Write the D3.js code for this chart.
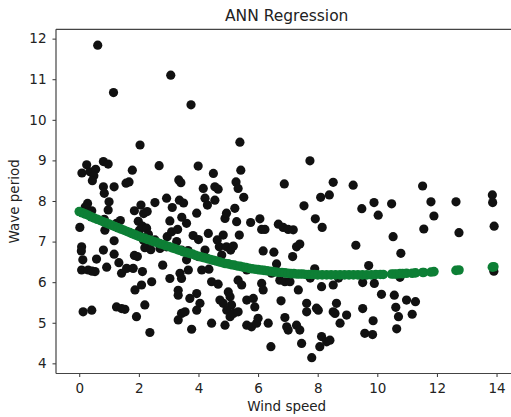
<!DOCTYPE html>
<html>
<head>
<meta charset="utf-8">
<script src="https://cdn.jsdelivr.net/npm/d3@7"></script>
<style>
  html, body { margin: 0; padding: 0; background: #fff; }
  svg { display: block; font-family: "DejaVu Sans", sans-serif; }
</style>
</head>
<body>
<svg id="chart" width="511" height="417"></svg>
<script>
// Observed wind speed / wave period pairs
const windSpeed = [
  0.62,0.09,0.25,0.36,0.55,0.49,0.44,0.28,0.20,0.42,0.02,0.08,0.07,0.12,0.08,0.30,0.53,0.58,0.13,0.42,0.43,
  0.81,0.97,0.81,0.84,1.00,1.17,0.97,0.84,0.86,0.81,0.92,1.15,1.17,1.17,1.25,1.38,1.33,1.42,1.25,1.42,1.53,
  1.57,1.67,1.78,1.59,1.81,1.85,2.04,2.07,2.16,2.28,2.54,1.98,2.02,2.12,2.26,2.32,2.15,2.30,2.20,2.40,1.85,1.95,
  2.12,1.87,2.09,2.20,1.92,2.37,2.43,2.80,
  2.68,2.93,3.12,3.04,2.54,2.71,2.93,2.95,3.10,3.27,3.30,3.07,3.04,3.34,3.41,3.36,3.50,3.44,3.60,3.43,3.60,3.65,
  3.38,3.43,3.66,3.32,3.32,3.43,3.32,3.55,3.71,3.77,
  3.75,3.99,4.16,4.22,4.30,3.94,3.82,4.00,4.22,4.33,3.99,4.11,3.94,4.05,3.94,4.44,4.44,4.50,4.55,4.66,4.55,4.63,
  4.70,4.35,4.66,4.78,
  4.72,4.83,5.00,5.06,5.11,4.95,5.06,5.17,5.33,4.89,4.83,4.89,4.94,4.94,5.08,5.17,5.22,5.26,5.33,5.42,5.39,5.28,
  5.37,5.52,5.33,5.45,5.62,5.62,5.84,5.89,5.62,5.78,5.95,6.00,
  5.75,6.06,6.12,6.23,6.17,6.53,6.12,6.17,6.45,6.62,6.73,6.90,7.07,6.77,6.34,6.43,6.68,6.84,7.01,7.18,6.88,
  6.90,6.96,7.01,7.29,7.40,7.35,7.46,7.80,7.63,7.63,7.96,8.02,7.74,7.54,7.16,7.29,7.40,7.92,8.15,7.90,7.75,8.13,
  8.10,8.39,8.52,9.19,8.13,8.07,8.30,8.41,8.52,8.58,8.63,8.75,8.97,8.52,8.70,9.28,9.48,
  9.51,9.90,9.71,10.14,9.51,9.86,9.58,9.84,9.89,10.03,10.48,10.53,10.79,10.76,10.57,10.62,10.71,10.65,10.98,11.28,
  11.17,11.52,11.56,11.80,11.90,12.64,12.74,13.86,13.87,13.92,13.91
];
const wavePeriod = [
  11.84,8.69,8.89,8.72,8.78,8.62,8.50,7.94,7.85,7.76,7.35,6.87,6.77,6.55,6.30,6.30,6.26,6.57,5.27,5.31,6.27,
  8.97,8.91,8.35,8.19,7.98,8.35,7.78,7.55,7.28,6.79,6.37,10.67,7.02,6.69,7.45,7.52,6.48,6.22,5.39,5.35,5.33,
  8.44,8.47,8.76,6.34,6.34,7.76,9.38,7.90,7.69,7.74,7.96,7.50,7.28,7.38,7.33,7.18,7.04,7.00,6.85,6.80,6.66,6.63,
  6.26,5.81,5.93,5.44,5.15,4.76,6.01,6.42,
  8.87,8.07,7.84,7.51,7.04,6.83,6.87,7.12,7.24,7.00,7.30,11.10,6.09,8.52,8.45,8.02,7.95,7.60,7.45,6.79,6.55,6.78,
  6.22,6.09,6.30,5.80,5.68,5.23,5.07,5.27,5.60,4.84,
  10.37,8.86,8.31,8.07,7.90,7.70,7.15,7.05,6.79,7.20,6.63,6.30,5.72,5.48,5.31,6.01,4.99,8.68,8.35,8.29,8.02,7.04,
  6.87,6.32,5.95,6.67,
  5.56,5.48,5.76,5.64,5.44,5.31,5.15,5.23,5.27,4.94,7.16,7.57,7.70,6.87,6.79,6.89,7.82,8.47,8.31,8.76,9.45,7.49,
  7.16,8.09,6.05,5.93,6.30,5.56,5.60,5.39,4.94,4.90,4.99,5.11,
  7.47,7.56,7.30,7.30,6.77,6.74,5.97,5.81,6.22,6.45,6.05,6.01,6.01,5.54,4.99,4.41,7.43,7.35,7.30,7.29,8.42,
  5.13,4.90,4.82,4.94,4.82,5.81,4.49,4.14,5.48,5.27,5.36,5.31,8.99,7.88,6.63,6.87,6.94,7.56,7.35,6.33,6.10,5.89,
  8.09,8.15,8.46,8.39,4.66,4.41,4.53,4.57,5.27,5.23,5.48,4.99,5.19,5.93,6.10,6.91,7.81,
  5.99,5.97,6.41,5.70,5.35,5.05,4.74,4.71,7.96,7.65,7.93,7.12,6.71,6.12,5.68,5.38,5.15,4.85,5.56,5.52,
  5.21,8.37,7.31,7.98,7.63,7.98,7.22,8.15,7.96,7.38,6.27
];

// ANN regression output along the wind speed range
const predSpeed = [
  0.0,0.1,0.2,0.3,0.4,0.5,0.6,0.7,0.8,0.9,1.0,1.1,1.2,1.3,1.4,1.5,1.6,1.7,1.8,1.9,
  2.0,2.1,2.2,2.3,2.4,2.5,2.6,2.7,2.8,2.9,3.0,3.1,3.2,3.3,3.4,3.5,3.6,3.7,3.8,3.9,
  4.0,4.1,4.2,4.3,4.4,4.5,4.6,4.7,4.8,4.9,5.0,5.1,5.2,5.3,5.4,5.5,5.6,5.7,5.8,5.9,
  6.0,6.1,6.2,6.3,6.4,6.5,6.6,6.7,6.8,6.9,7.0,7.1,7.2,7.3,7.4,7.5,7.6,7.7,7.8,7.9,
  8.0,8.15,8.3,8.45,8.6,8.75,8.9,9.05,9.2,9.35,9.5,9.65,9.8,9.95,10.1,10.2,
  10.48,10.57,10.65,10.76,10.85,10.98,11.17,11.28,11.52,11.56,11.80,11.90,12.64,12.74,13.86,13.91
];
const predPeriod = [
  7.74,7.71,7.68,7.65,7.61,7.58,7.55,7.52,7.49,7.46,7.43,7.40,7.37,7.34,7.31,7.28,7.25,7.22,7.19,7.16,
  7.13,7.10,7.08,7.05,7.03,7.00,6.98,6.95,6.93,6.90,6.88,6.85,6.83,6.80,6.78,6.75,6.73,6.71,6.69,6.66,
  6.64,6.62,6.60,6.58,6.56,6.54,6.52,6.50,6.48,6.46,6.45,6.43,6.42,6.40,6.39,6.37,6.36,6.34,6.33,6.32,
  6.31,6.30,6.29,6.28,6.27,6.26,6.25,6.24,6.24,6.23,6.22,6.21,6.21,6.20,6.20,6.20,6.19,6.19,6.19,6.19,
  6.18,6.18,6.18,6.18,6.18,6.18,6.18,6.18,6.18,6.18,6.18,6.18,6.18,6.19,6.19,6.19,
  6.20,6.20,6.20,6.21,6.21,6.22,6.22,6.23,6.24,6.24,6.25,6.26,6.29,6.30,6.37,6.38
];

const xTicks = [0, 2, 4, 6, 8, 10, 12, 14];
const yTicks = [4, 5, 6, 7, 8, 9, 10, 11, 12];

const svg = d3.select("#chart");
const plot = { left: 56, right: 517.4, top: 29.3, bottom: 373.5 };

const x = d3.scaleLinear().domain([-0.78, 14.7]).range([plot.left, plot.right]);
const y = d3.scaleLinear().domain([3.75, 12.23]).range([plot.bottom, plot.top]);

const tickColor = "#333";
const fontSize = 13.5;

// axes
const xAxis = svg.append("g")
  .attr("transform", `translate(0,${plot.bottom})`)
  .call(d3.axisBottom(x).tickValues(xTicks).tickFormat(d3.format("d")).tickSize(3.5).tickPadding(6.5));
const yAxis = svg.append("g")
  .attr("transform", `translate(${plot.left},0)`)
  .call(d3.axisLeft(y).tickValues(yTicks).tickFormat(d3.format("d")).tickSize(3.5).tickPadding(6));
[xAxis, yAxis].forEach(g => {
  g.select(".domain").remove();
  g.selectAll("line").attr("stroke", tickColor).attr("stroke-width", 1);
  g.selectAll("text").attr("fill", "#222").style("font-size", fontSize + "px")
    .style("font-family", "'DejaVu Sans', sans-serif");
});

// scatter of observations
const pts = windSpeed.map((v, i) => ({ ws: v, wp: wavePeriod[i] }));
svg.append("g").selectAll("circle").data(pts).join("circle")
  .attr("cx", d => x(d.ws))
  .attr("cy", d => y(d.wp))
  .attr("r", 4.6)
  .attr("fill", "#111");

// regression predictions
const pred = predSpeed.map((v, i) => ({ ws: v, wp: predPeriod[i] }));
svg.append("g").selectAll("circle").data(pred).join("circle")
  .attr("cx", d => x(d.ws))
  .attr("cy", d => y(d.wp))
  .attr("r", 4.8)
  .attr("fill", "#0d7f35");

// spines
const spine = svg.append("g").attr("stroke", "#444").attr("stroke-width", 1.2).attr("fill", "none");
spine.append("line").attr("x1", plot.left).attr("x2", plot.left).attr("y1", plot.top).attr("y2", plot.bottom);
spine.append("line").attr("x1", plot.left).attr("x2", plot.right).attr("y1", plot.bottom).attr("y2", plot.bottom);
spine.append("line").attr("x1", plot.left).attr("x2", plot.right).attr("y1", plot.top).attr("y2", plot.top);
spine.append("line").attr("x1", plot.right).attr("x2", plot.right).attr("y1", plot.top).attr("y2", plot.bottom);

// titles
const cx = (plot.left + plot.right) / 2;
svg.append("text").attr("x", cx).attr("y", 21).attr("text-anchor", "middle")
  .attr("fill", "#222").style("font-size", "15.5px").text("ANN Regression");
svg.append("text").attr("x", cx).attr("y", 411).attr("text-anchor", "middle")
  .attr("fill", "#222").style("font-size", fontSize + "px").text("Wind speed");
svg.append("text").attr("transform", `translate(19,${(plot.top + plot.bottom) / 2}) rotate(-90)`)
  .attr("text-anchor", "middle").attr("fill", "#222").style("font-size", fontSize + "px").text("Wave period");
</script>
</body>
</html>
